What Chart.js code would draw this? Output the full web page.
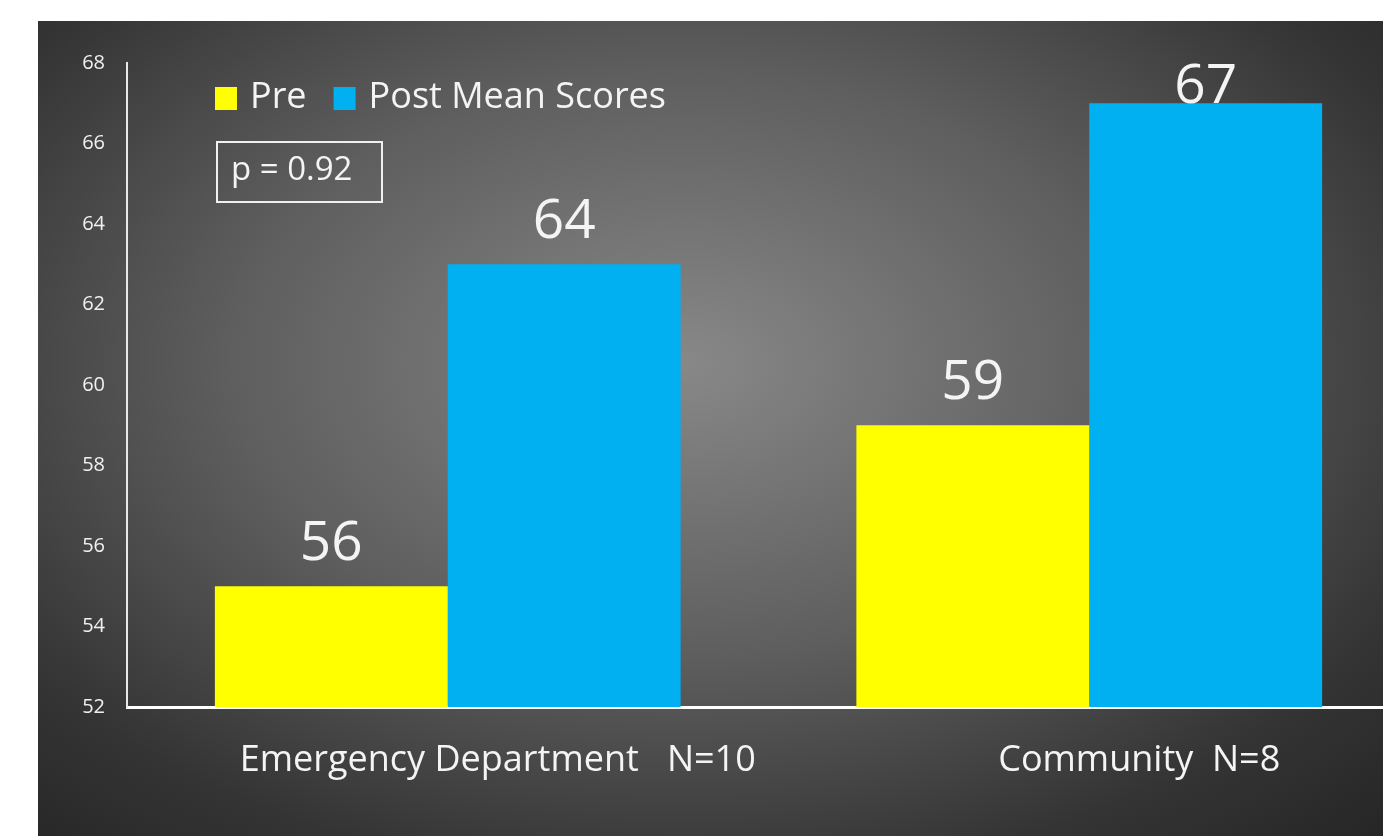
<!DOCTYPE html>
<html>
<head>
<meta charset="utf-8">
<script src="https://cdn.jsdelivr.net/npm/chart.js@4/dist/chart.umd.min.js"></script>
<style>
  html, body { margin: 0; padding: 0; background: #fff; overflow: hidden; }
  #panel {
    position: absolute; left: 38px; top: 21px; width: 1345px; height: 815px;
    overflow: hidden;
    background: radial-gradient(ellipse 75% 80% at 48% 42%, #888 0%, #5e5e5e 45%, #343434 80%, #262626 100%);
  }
  #panel canvas { position: absolute; left: 0; top: 0; }
</style>
</head>
<body>
<div id="panel"><canvas id="chart" width="1372" height="815"></canvas></div>
<script>
const categories = ['Emergency Department   N=10', 'Community  N=8'];
const preScores = [55, 59];
const postScores = [63, 67];
const preLabels = ['56', '59'];
const postLabels = ['64', '67'];
const yTicks = [52, 54, 56, 58, 60, 62, 64, 66, 68];
const pText = 'p = 0.92';

const FONT = '"Open Sans", "Noto Sans", sans-serif';

// value labels above each bar
const barLabels = {
  id: 'barLabels',
  afterDatasetsDraw(chart) {
    const ctx = chart.ctx;
    ctx.save();
    ctx.fillStyle = '#f4f4f4';
    ctx.font = '55px ' + FONT;
    ctx.textAlign = 'center';
    ctx.textBaseline = 'alphabetic';
    chart.data.datasets.forEach((ds, i) => {
      chart.getDatasetMeta(i).data.forEach((bar, j) => {
        const y = Math.max(bar.y - 26, chart.chartArea.top + 40);
        ctx.fillText(ds.valueLabels[j], bar.x, y);
      });
    });
    ctx.restore();
  }
};

// legend and p-value box drawn inside the plot
const insideLegend = {
  id: 'insideLegend',
  afterDraw(chart) {
    const ctx = chart.ctx;
    const a = chart.chartArea;
    ctx.save();
    let x = a.left + 88;
    const y = a.top + 35;
    ctx.font = '36px ' + FONT;
    ctx.textBaseline = 'middle';
    chart.data.datasets.forEach(ds => {
      ctx.fillStyle = ds.backgroundColor;
      ctx.fillRect(x, y - 11, 22, 23);
      ctx.fillStyle = '#f4f4f4';
      ctx.fillText(ds.label, x + 35, y);
      x += 35 + ctx.measureText(ds.label).width + 27;
    });
    ctx.strokeStyle = '#f0f0f0';
    ctx.lineWidth = 2;
    ctx.strokeRect(a.left + 90, a.top + 79, 165, 60);
    ctx.font = '33px ' + FONT;
    ctx.fillText(pText, a.left + 104, a.top + 108);
    ctx.restore();
  }
};

new Chart(document.getElementById('chart'), {
  type: 'bar',
  data: {
    labels: categories,
    datasets: [
      { label: 'Pre', data: preScores, valueLabels: preLabels, backgroundColor: '#ffff00' },
      { label: 'Post Mean Scores', data: postScores, valueLabels: postLabels, backgroundColor: '#00b0f0' }
    ]
  },
  options: {
    responsive: false,
    animation: false,
    layout: { padding: { top: 42, right: 0, left: 0, bottom: 0 } },
    datasets: { bar: { categoryPercentage: 0.726, barPercentage: 1.0 } },
    plugins: { legend: { display: false }, tooltip: { enabled: false } },
    scales: {
      x: {
        grid: { display: false, drawTicks: false },
        border: { display: true, color: '#ffffff', width: 3 },
        ticks: { color: '#f4f4f4', font: { family: FONT, size: 36 }, padding: 32, labelOffset: 50 },
        afterFit(s) { s.height = 129; }
      },
      y: {
        min: 52,
        max: 68,
        afterBuildTicks(s) { s.ticks = yTicks.map(v => ({ value: v })); },
        grid: { display: false, drawTicks: false },
        border: { display: true, color: '#e8e8e8', width: 2 },
        ticks: { color: '#f0f0f0', font: { family: FONT, size: 20 }, padding: 22 },
        afterFit(s) { s.width = 89; }
      }
    }
  },
  plugins: [barLabels, insideLegend]
});
</script>
</body>
</html>
